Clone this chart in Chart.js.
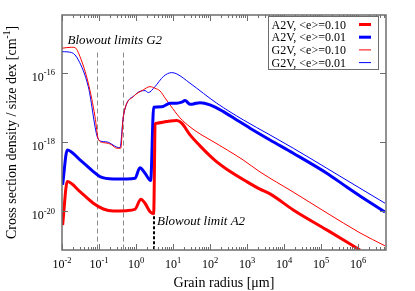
<!DOCTYPE html>
<html>
<head>
<meta charset="utf-8">
<script src="https://cdn.jsdelivr.net/npm/chart.js@4.4.0/dist/chart.umd.min.js"></script>
<style>html,body{margin:0;padding:0;background:#fff}</style>
</head>
<body>
<canvas id="myChart" width="415" height="291"></canvas>
<script>
// grain radius [um] and cross section density
const a2v10X = [0.0104, 0.0139, 0.0306, 0.0702, 0.131, 0.243, 0.561, 0.94, 1.36, 1.75, 2.39, 3.0, 3.3, 3.62, 6.76, 12.6, 17.2, 28.8, 53.7, 100, 152, 283, 981, 2245, 4185, 17800, 143000, 1130000];
const a2v10Y = [4.0e-21, 7.15e-20, 3.68e-20, 1.70e-20, 1.16e-20, 1.02e-20, 1.04e-20, 1.14e-20, 2.22e-20, 1.70e-20, 9.7e-21, 8.5e-21, 3.3e-18, 3.47e-18, 3.86e-18, 4.12e-18, 3.47e-18, 1.59e-18, 7.7e-19, 3.94e-19, 2.65e-19, 1.63e-19, 7.15e-20, 4.32e-20, 3.16e-20, 1.09e-20, 2.89e-21, 7.64e-22];

const a2v01X = [0.0104, 0.0139, 0.0306, 0.0702, 0.106, 0.243, 0.561, 0.94, 1.28, 1.75, 2.49, 3.0, 4.95, 8.3, 12.6, 17.2, 21.1, 28.8, 35.4, 53.7, 100, 229, 527, 1205, 4185, 17800, 143000, 495000, 1130000, 5370000];
const a2v01Y = [5.74e-20, 5.87e-19, 3.03e-19, 1.39e-19, 9.98e-20, 8.55e-20, 8.55e-20, 8.96e-20, 1.81e-19, 1.25e-19, 7.64e-20, 1.0e-17, 1.04e-17, 1.31e-17, 1.31e-17, 1.4e-17, 1.56e-17, 1.23e-17, 1.25e-17, 1.36e-17, 1.17e-17, 7.5e-18, 4.31e-18, 2.49e-18, 1.14e-18, 4.72e-19, 1.25e-19, 5.0e-20, 2.76e-20, 9.5e-21];

const g2v10X = [0.01, 0.0183, 0.0224, 0.0306, 0.0514, 0.078, 0.0957, 0.131, 0.178, 0.22, 0.301, 0.386, 0.454, 0.846, 1.57, 2.39, 3.26, 4.45, 6.08, 8.3, 15.5, 28.8, 53.7, 113, 780, 2245, 17500, 145000, 1130000, 5370000];
const g2v10Y = [5.06e-16, 5.4e-16, 5.27e-16, 2.9e-16, 4.95e-17, 5.37e-18, 1.2e-18, 9.55e-19, 9.1e-19, 8.2e-19, 6.57e-19, 6.57e-19, 5.37e-18, 2.03e-17, 3.17e-17, 3.94e-17, 3.55e-17, 2.96e-17, 1.86e-17, 1.17e-17, 4.93e-18, 2.71e-18, 1.70e-18, 1.07e-18, 3.03e-19, 1.36e-19, 3.6e-20, 8.9e-21, 2.37e-21, 1.0e-21];

const g2v01X = [0.01, 0.0183, 0.0276, 0.0514, 0.0957, 0.131, 0.178, 0.22, 0.301, 0.37, 0.454, 0.94, 1.75, 2.15, 3.26, 5.47, 9.22, 12.6, 28.8, 152, 795, 4185, 17800, 143000, 1130000, 5370000];
const g2v01Y = [4.03e-16, 3.78e-16, 2.33e-16, 3.94e-17, 1.2e-18, 1.02e-18, 9.8e-19, 8.6e-19, 7.1e-19, 6.85e-19, 5.37e-18, 2.27e-17, 3.03e-17, 2.65e-17, 3.94e-17, 7.7e-17, 1.0e-16, 9.2e-17, 4.95e-17, 1.31e-17, 4.31e-18, 1.59e-18, 6.57e-19, 1.74e-19, 4.61e-20, 1.7e-20];

const seriesLabels = ['A2V, <e>=0.10', 'A2V, <e>=0.01', 'G2V, <e>=0.10', 'G2V, <e>=0.01'];
const xTickExps = [-2, -1, 0, 1, 2, 3, 4, 5, 6];
const yTickExps = [-16, -18, -20];
const blowoutG2 = [0.088, 0.45];
const blowoutA2 = 3.06;

const serif = '"Liberation Serif", "DejaVu Serif", serif';
const axisGray = '#6e6e6e';

function pairs(xs, ys) {
  return xs.map((x, i) => ({ x: x, y: ys[i] }));
}

function powLabel(ctx, exp, x, y, align) {
  ctx.font = '12px ' + serif;
  const wb = ctx.measureText('10').width;
  ctx.font = '8.5px ' + serif;
  const we = ctx.measureText(String(exp)).width;
  const left = align === 'right' ? x - wb - we : x - (wb + we) / 2;
  ctx.textAlign = 'left';
  ctx.textBaseline = 'alphabetic';
  ctx.font = '12px ' + serif;
  ctx.fillText('10', left, y);
  ctx.font = '8.5px ' + serif;
  ctx.fillText(String(exp), left + wb, y - 5.5);
}

const decorations = {
  id: 'decorations',
  beforeDatasetsDraw(chart) {
    const ctx = chart.ctx;
    const xs = chart.scales.x, ys = chart.scales.y;
    const a = chart.chartArea;
    ctx.save();
    // blowout limits G2
    ctx.strokeStyle = '#8a8a8a';
    ctx.lineWidth = 1;
    ctx.setLineDash([5, 3]);
    blowoutG2.forEach(v => {
      const px = Math.round(xs.getPixelForValue(v)) + 0.5;
      ctx.beginPath();
      ctx.moveTo(px, ys.getPixelForValue(3.8e-16));
      ctx.lineTo(px, a.bottom);
      ctx.stroke();
    });
    // blowout limit A2
    ctx.strokeStyle = '#000';
    ctx.lineWidth = 2;
    ctx.setLineDash([3, 2]);
    const bx = Math.round(xs.getPixelForValue(blowoutA2));
    ctx.beginPath();
    ctx.moveTo(bx, ys.getPixelForValue(1e-20));
    ctx.lineTo(bx, a.bottom);
    ctx.stroke();
    ctx.restore();
  },
  afterDraw(chart) {
    const ctx = chart.ctx;
    const xs = chart.scales.x, ys = chart.scales.y;
    const a = chart.chartArea;
    ctx.save();
    ctx.fillStyle = '#000';

    // frame
    ctx.strokeStyle = axisGray;
    ctx.lineWidth = 1.5;
    ctx.strokeRect(a.left, a.top, a.right - a.left, a.bottom - a.top);

    // x ticks (major + minor), inward on bottom and top
    ctx.lineWidth = 1;
    for (let e = -2; e <= 6; e++) {
      for (let m = 1; m <= 9; m++) {
        const v = m * Math.pow(10, e);
        if (v > xs.max) break;
        const px = Math.round(xs.getPixelForValue(v)) + 0.5;
        const len = m === 1 ? 6 : 3;
        ctx.beginPath();
        ctx.moveTo(px, a.bottom); ctx.lineTo(px, a.bottom - len);
        ctx.moveTo(px, a.top); ctx.lineTo(px, a.top + len);
        ctx.stroke();
      }
    }
    // y ticks
    yTickExps.forEach(e => {
      const py = Math.round(ys.getPixelForValue(Math.pow(10, e))) + 0.5;
      ctx.beginPath();
      ctx.moveTo(a.left, py); ctx.lineTo(a.left + 6, py);
      ctx.moveTo(a.right, py); ctx.lineTo(a.right - 6, py);
      ctx.stroke();
    });

    // tick labels
    xTickExps.forEach(e => {
      powLabel(ctx, e, xs.getPixelForValue(Math.pow(10, e)), 268, 'center');
    });
    yTickExps.forEach(e => {
      powLabel(ctx, e, 55, ys.getPixelForValue(Math.pow(10, e)) + 8, 'right');
    });

    // axis titles
    ctx.font = '14px ' + serif;
    ctx.textAlign = 'center';
    ctx.textBaseline = 'alphabetic';
    ctx.fillText('Grain radius [\u03bcm]', (a.left + a.right) / 2, 287);

    ctx.save();
    ctx.translate(16, (a.top + a.bottom) / 2);
    ctx.rotate(-Math.PI / 2);
    const t1 = 'Cross section density / size dex [cm';
    const t2 = '-1';
    const t3 = ']';
    ctx.font = '14px ' + serif;
    const w1 = ctx.measureText(t1).width, w3 = ctx.measureText(t3).width;
    ctx.font = '9.5px ' + serif;
    const w2 = ctx.measureText(t2).width;
    let x0 = -(w1 + w2 + w3) / 2;
    ctx.textAlign = 'left';
    ctx.font = '14px ' + serif;
    ctx.fillText(t1, x0, 0);
    ctx.font = '9.5px ' + serif;
    ctx.fillText(t2, x0 + w1, -6);
    ctx.font = '14px ' + serif;
    ctx.fillText(t3, x0 + w1 + w2, 0);
    ctx.restore();

    // annotations
    ctx.font = 'italic 13px ' + serif;
    ctx.textAlign = 'left';
    ctx.fillText('Blowout limits G2', 67.5, 43.5);
    ctx.fillText('Blowout limit A2', 157, 225);

    // legend
    ctx.fillStyle = '#fff';
    ctx.fillRect(268.5, 16.5, 110, 53);
    ctx.strokeStyle = axisGray;
    ctx.lineWidth = 1;
    ctx.strokeRect(268.5, 16.5, 110, 53);
    ctx.font = '12px ' + serif;
    chart.data.datasets.forEach((ds, i) => {
      const base = 28.5 + i * 12.7;
      ctx.fillStyle = '#000';
      ctx.fillText(ds.label, 271.5, base);
      ctx.strokeStyle = ds.borderColor;
      ctx.lineWidth = ds.borderWidth;
      ctx.beginPath();
      ctx.moveTo(359, base - 4);
      ctx.lineTo(371, base - 4);
      ctx.stroke();
    });
    ctx.restore();
  }
};

const ctx = document.getElementById('myChart');
const chart = new Chart(ctx, {
  type: 'line',
  data: {
    datasets: [
      { label: seriesLabels[0], data: pairs(a2v10X, a2v10Y), borderColor: '#ff0000', borderWidth: 3 },
      { label: seriesLabels[1], data: pairs(a2v01X, a2v01Y), borderColor: '#0000ff', borderWidth: 3 },
      { label: seriesLabels[2], data: pairs(g2v10X, g2v10Y), borderColor: '#ff0000', borderWidth: 1 },
      { label: seriesLabels[3], data: pairs(g2v01X, g2v01Y), borderColor: '#0000ff', borderWidth: 1 }
    ]
  },
  options: {
    responsive: false,
    animation: false,
    devicePixelRatio: 1,
    layout: { padding: { left: 62, right: 29, top: 15, bottom: 41 } },
    datasets: { line: { clip: 0, fill: false, cubicInterpolationMode: 'monotone' } },
    elements: { point: { radius: 0 } },
    plugins: { legend: { display: false }, tooltip: { enabled: false } },
    scales: {
      x: { type: 'logarithmic', min: 0.01, max: 5.7e6, display: false },
      y: { type: 'logarithmic', min: 7.6e-22, max: 4.6e-15, display: false }
    }
  },
  plugins: [decorations]
});
</script>
</body>
</html>
